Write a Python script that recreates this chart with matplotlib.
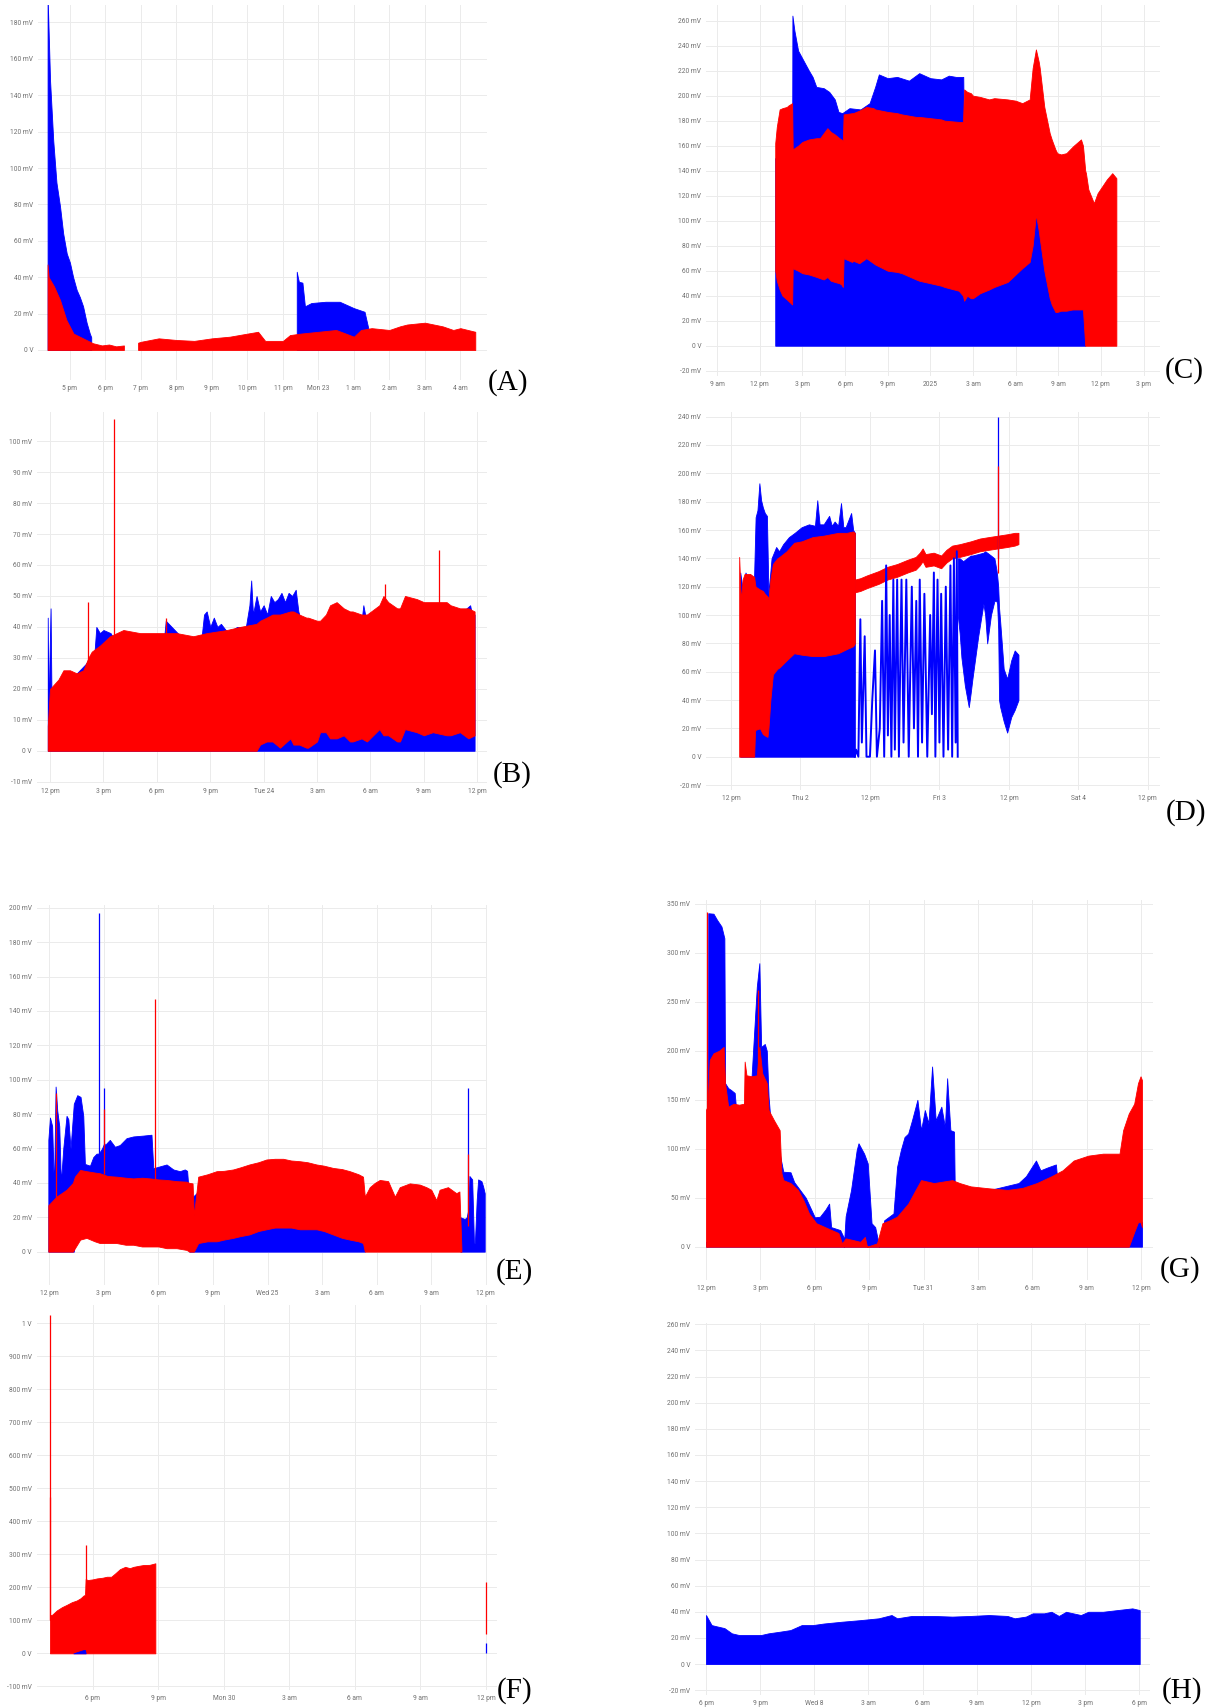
import matplotlib
matplotlib.use("Agg")
import matplotlib.pyplot as plt

BLUE = "#0000ff"
RED = "#ff0000"

# ---------------- Panel A (hours after 12 pm) ----------------
a_xticks = [5, 6, 7, 8, 9, 10, 11, 12, 13, 14, 15, 16]
a_xlabels = ["5 pm", "6 pm", "7 pm", "8 pm", "9 pm", "10 pm", "11 pm", "Mon 23", "1 am", "2 am", "3 am", "4 am"]
a_yticks = [0, 20, 40, 60, 80, 100, 120, 140, 160, 180]
a_blue1_x = [4.37, 4.44, 4.53, 4.62, 4.72, 4.81, 4.91, 5.0, 5.09, 5.19, 5.28, 5.37, 5.47, 5.56, 5.6]
a_blue1_hi = [195, 148, 115, 92, 79, 64, 53, 48, 40, 33, 29, 24, 15, 9, 7]
a_blue2_x = [11.39, 11.42, 11.45, 11.55, 11.62, 11.8, 12.2, 12.6, 13.0, 13.3, 13.44]
a_blue2_hi = [43, 40, 37.5, 37, 24, 25.8, 26.5, 26.5, 23, 21, 9]
a_red1_x = [4.37, 4.40, 4.55, 4.72, 4.90, 5.10, 5.37, 5.65, 5.90, 6.10, 6.30, 6.52]
a_red1_hi = [47, 40, 35, 27.5, 16.5, 9, 6.4, 3.7, 2.5, 3, 2, 2.5]
a_red2_x = [6.92, 7.0, 7.5, 8.0, 8.5, 9.0, 9.5, 10.0, 10.3, 10.5, 11.0, 11.2, 11.5, 12.0, 12.5,
            13.0, 13.2, 13.5, 14.0, 14.3, 14.5, 15.0, 15.5, 15.8, 16.0, 16.42]
a_red2_hi = [4, 4.5, 6.4, 5.5, 5, 6.4, 7.3, 9, 10, 5, 5, 8.2, 9, 10, 11, 7.3, 11, 12, 11, 13, 14, 15, 13, 11, 12, 10]

# ---------------- Panel B ----------------
b_xticks = [0, 3, 6, 9, 12, 15, 18, 21, 24]
b_xlabels = ["12 pm", "3 pm", "6 pm", "9 pm", "Tue 24", "3 am", "6 am", "9 am", "12 pm"]
b_yticks = [-10, 0, 10, 20, 30, 40, 50, 60, 70, 80, 90, 100]
b_blue_x = [-0.13, -0.08, -0.03, 0.03, 0.08, 0.15, 0.5, 1.0, 2.0, 2.5, 2.6, 2.8, 3.0, 3.4, 3.6, 4.5,
            6.0, 6.4, 6.5, 7.5, 8.5, 8.65, 8.8, 9.0, 9.2, 9.4, 9.6, 10.0, 10.5, 11.0, 11.2, 11.3,
            11.4, 11.6, 11.8, 12.0, 12.2, 12.4, 12.6, 12.8, 13.0, 13.2, 13.4, 13.6, 13.8, 13.95,
            14.1, 15.0, 16.0, 17.0, 17.5, 17.6, 17.7, 18.0, 19.0, 20.0, 21.0, 22.0, 23.0, 23.6, 23.7, 23.85]
b_blue_hi = [43, 10, 30, 46, 18, 15, 18, 22, 28, 32, 40, 38, 39, 38, 36, 36, 36, 36, 42, 36,
             36, 44, 45, 40, 43, 40, 41, 38, 40, 40, 47, 55, 44, 50, 45, 47, 44, 50, 48, 49,
             51, 48, 51, 50, 52, 45, 42, 40, 44, 44, 42, 47, 44, 43, 44, 44, 45, 45, 44, 47, 44, 44]
b_red_x = [-0.13, 0.0, 0.47, 0.75, 1.12, 1.5, 1.87, 2.15, 2.34, 2.81, 3.37, 4.12, 5.06, 6.18, 7.12,
           8.05, 8.8, 9.93, 10.67, 11.6, 11.8, 12.17, 12.5, 12.92, 13.5, 13.67, 14.0, 14.4, 14.5,
           15.0, 15.17, 15.5, 15.73, 16.1, 16.5, 16.85, 17.0, 17.5, 17.8, 18.5, 18.73, 19.0, 19.5,
           19.66, 19.94, 20.6, 21.0, 21.5, 22.28, 22.5, 23.03, 23.5, 23.85]
b_red_hi = [8, 20, 23, 26, 26, 25, 26, 30, 32, 34, 37, 39, 38, 38, 38, 37, 38, 39, 40, 41,
            42, 43, 44, 44, 45, 45, 44, 43, 43, 42, 42, 44, 47, 48, 46, 45, 45, 44, 44, 47,
            50, 48, 46, 46, 50, 49, 48, 48, 48, 47, 46, 46, 45]
b_red_lo = [0] * 20 + [2, 3, 3, 1, 4, 2, 2, 1, 1, 3, 6, 6, 4, 4, 5, 3, 3, 4, 3, 7, 5, 5, 3, 3,
                       7, 6, 5, 6, 5, 5, 6, 4, 5]
b_rspike_x = [2.15, 3.6, 6.5, 18.82, 21.87]
b_rspike_hi = [48, 107, 43, 54, 65]

# ---------------- Panel C (hours after 9 am) ----------------
c_xticks = [0, 3, 6, 9, 12, 15, 18, 21, 24, 27, 30]
c_xlabels = ["9 am", "12 pm", "3 pm", "6 pm", "9 pm", "2025", "3 am", "6 am", "9 am", "12 pm", "3 pm"]
c_yticks = list(range(-20, 261, 20))
c_blue_x = [4.09, 5.28, 5.3, 5.44, 5.7, 6.08, 6.46, 6.72, 6.98, 7.5, 7.89, 8.28, 8.54, 8.8, 9.31,
            10.09, 10.73, 11.12, 11.38, 12.0, 12.67, 13.5, 14.22, 15.0, 15.77, 16.3, 16.8, 17.32,
            17.36, 18.0, 20.0, 22.0, 22.43, 23.0, 24.0, 25.0, 25.8, 25.9]
c_blue_hi = [150, 150, 264, 252, 236, 228, 220, 215, 207, 206, 203, 197, 187, 186, 190, 189, 194,
             207, 217, 214, 215, 212, 218, 214, 213, 216, 215, 215, 170, 180, 180, 185, 200, 160,
             140, 140, 140, 29]
c_red_x = [4.09, 4.2, 4.4, 4.6, 4.91, 5.0, 5.28, 5.32, 5.7, 6.0, 6.46, 7.0, 7.24, 7.5, 7.76, 8.0,
           8.28, 8.6, 8.74, 8.85, 8.9, 9.5, 9.57, 10.0, 10.5, 11.0, 11.12, 12.0, 12.67, 13.0, 14.0,
           14.22, 15.0, 15.77, 16.0, 17.0, 17.3, 17.38, 17.6, 17.85, 18.0, 18.5, 19.14, 19.5, 20.44,
           21.0, 21.47, 21.99, 22.2, 22.43, 22.63, 22.7, 23.02, 23.4, 23.54, 23.8, 23.93, 24.2,
           24.57, 25.0, 25.09, 25.6, 25.74, 25.9, 25.95, 26.12, 26.51, 26.77, 27.42, 27.8, 28.09]
c_red_hi = [162, 175, 189, 190, 191, 192, 194, 157, 160, 163, 165, 166, 166, 170, 174, 171, 169,
            166, 165, 164, 185, 186, 186, 188, 191, 190, 189, 187, 186, 185, 183, 183, 182, 181,
            180, 179, 179, 205, 203, 202, 200, 199, 197, 198, 197, 196, 194, 197, 222, 237, 227,
            222, 191, 170, 165, 157, 154, 153, 154, 159, 160, 165, 160, 140, 138, 125, 114, 122,
            133, 138, 134]
c_red_lo = [60, 52, 45, 40, 37, 36, 33, 62, 60, 58, 57, 55, 54, 53, 55, 52, 51, 50, 49, 47, 70,
            67, 68, 66, 70, 66, 65, 60, 59, 58, 53, 52, 50, 48, 47, 44, 40, 36, 40, 38, 38, 42,
            45, 47, 51, 57, 62, 67, 80, 105, 92, 86, 60, 38, 33, 27, 27, 28, 28, 29, 29, 29, 29,
            0, 0, 0, 0, 0, 0, 0, 0]

# ---------------- Panel D (hours after Wed 12 pm) ----------------
d_xticks = [0, 12, 24, 36, 48, 60, 72]
d_xlabels = ["12 pm", "Thu 2", "12 pm", "Fri 3", "12 pm", "Sat 4", "12 pm"]
d_yticks = list(range(-20, 241, 20))
d_blue1_x = [1.6, 2.0, 2.5, 3.0, 3.5, 3.94, 4.25, 4.57, 4.9, 5.2, 5.5, 5.84, 6.2, 6.47, 7.0, 7.8,
             8.3, 9.0, 10.0, 11.0, 12.2, 13.45, 14.5, 14.9, 15.3, 16.0, 16.95, 17.4, 17.9, 18.5,
             19.0, 19.4, 19.8, 20.75, 21.1, 21.39]
d_blue1_hi = [130, 118, 130, 125, 128, 120, 169, 174, 193, 181, 176, 172, 170, 115, 140, 148, 145,
              150, 155, 158, 162, 164, 163, 181, 164, 164, 170, 163, 166, 163, 179, 162, 162, 172,
              160, 158]
d_blue2_x = [21.39, 21.6, 22.0, 22.34, 22.6, 23.09, 23.4, 24.0, 24.4, 24.87, 25.2, 25.7, 26.1,
             26.46, 26.8, 27.1, 27.41, 27.7, 28.04, 28.3, 28.7, 29.0, 29.45, 29.8, 30.28, 30.7,
             31.23, 31.6, 32.0, 32.3, 32.6, 33.0, 33.4, 33.9, 34.4, 34.7, 35.04, 35.3, 35.67, 36.0,
             36.3, 36.7, 37.1, 37.5, 37.9, 38.2, 38.5, 38.8, 39.0, 39.16]
d_blue2_y = [0, 5, 0, 97, 10, 85, 0, 0, 40, 75, 0, 20, 110, 0, 135, 15, 100, 0, 125, 5, 125, 0,
             125, 10, 125, 0, 120, 20, 110, 0, 125, 10, 115, 0, 100, 30, 130, 0, 125, 10, 115, 0,
             120, 5, 135, 0, 140, 10, 145, 0]
d_blue3_x = [39.16, 39.5, 39.8, 40.1, 40.4, 41.07, 41.4, 41.7, 42.7, 43.6, 43.9, 44.25, 44.9, 45.5,
             45.84, 45.97, 46.15, 46.3, 46.5, 47.1, 47.7, 48.4, 49.0, 49.65]
d_blue3_hi = [140, 140, 139, 138, 139, 141, 142, 142, 143, 144, 145, 144, 142, 140, 132, 128, 120,
              105, 95, 62, 55, 68, 75, 72]
d_blue3_lo = [100, 87, 70, 60, 50, 35, 45, 55, 85, 108, 100, 80, 100, 110, 110, 108, 90, 40, 35,
              25, 17, 28, 33, 40]
d_red1_x = [1.41, 1.6, 1.72, 2.0, 2.34, 3.3, 3.94, 4.0, 4.15, 4.25, 5.0, 5.5, 5.84, 6.3, 6.47, 6.8,
            7.23, 7.6, 8.0, 8.37, 9.6, 10.9, 12.2, 14.1, 16.0, 18.5, 20.0, 21.1, 21.39]
d_red1_hi = [141, 120, 110, 125, 129, 129, 127, 127, 122, 120, 118, 117, 115, 113, 111, 125, 136,
             138, 140, 141, 145, 151, 152, 155, 156, 158, 158, 159, 158]
d_red1_lo = [0, 0, 0, 0, 0, 0, 0, 0, 18, 19, 20, 16, 15, 14, 20, 40, 58, 60, 62, 63, 68, 73, 72,
             71, 71, 73, 76, 78, 80]
d_red2_x = [21.39, 22.34, 23.5, 25.5, 27.0, 28.7, 30.5, 31.9, 32.6, 33.1, 33.6, 35.0, 36.3, 37.2,
            38.2, 39.5, 41.4, 43.0, 44.5, 46.1, 47.7, 49.0, 49.65]
d_red2_hi = [125, 126, 128, 131, 134, 136, 139, 141, 144, 147, 143, 144, 142, 146, 149, 150, 152,
             154, 155, 156, 157, 158, 158]
d_red2_lo = [116, 117, 119, 122, 125, 127, 130, 132, 135, 138, 134, 135, 133, 137, 140, 141, 143,
             145, 146, 147, 148, 149, 150]
d_spike_x = 46.15
d_spike_blue = 240
d_spike_red = 205

# ---------------- Panel E ----------------
e_xticks = [0, 3, 6, 9, 12, 15, 18, 21, 24]
e_xlabels = ["12 pm", "3 pm", "6 pm", "9 pm", "Wed 25", "3 am", "6 am", "9 am", "12 pm"]
e_yticks = list(range(0, 201, 20))
e_blue1_x = [-0.05, 0.04, 0.16, 0.26, 0.35, 0.44, 0.55, 0.64, 0.77, 0.95, 1.05, 1.17, 1.35, 1.54,
             1.72, 1.87, 1.96, 2.24, 2.42, 2.6, 2.7, 2.78, 2.9, 3.02, 3.08, 3.15, 3.33, 3.61, 3.88,
             4.25, 4.62, 5.17, 5.62, 5.72, 6.08, 6.45, 6.82, 7.18, 7.45, 7.58, 7.7, 8.2, 9.0, 10.0,
             11.0, 12.0, 13.0, 14.0, 15.0, 16.0, 17.0, 17.3, 17.35]
e_blue1_hi = [65, 78, 73, 36, 96, 82, 73, 40, 60, 79, 77, 60, 86, 91, 90, 79, 51, 50, 55, 57, 57,
              58, 60, 63, 62, 63, 65, 61, 62, 66, 67, 67.5, 68, 48.5, 49.6, 50.7, 47.8, 46.8,
              47.8, 47, 30, 35, 40, 40, 45, 45, 45, 45, 40, 40, 35, 30, 20]
e_blue1_lo = [0] * 13 + [20] * 27 + [0] * 13
e_blue2_x = [22.6, 22.84, 22.95, 23.05, 23.1, 23.25, 23.35, 23.4, 23.5, 23.58, 23.76, 23.85, 23.94]
e_blue2_hi = [20, 19, 20, 25, 44, 42, 5, 5, 30, 42, 41, 38, 34]
e_red_x = [-0.05, 0.4, 0.95, 1.3, 1.41, 1.7, 2.05, 2.5, 2.78, 3.2, 3.7, 4.2, 4.62, 5.1, 5.53, 6.0,
           6.45, 7.0, 7.55, 7.7, 7.88, 7.95, 8.19, 8.7, 9.2, 9.6, 10.11, 10.5, 11.0, 11.5, 11.94,
           12.4, 12.86, 13.3, 13.77, 14.2, 14.69, 15.1, 15.6, 16.1, 16.52, 17.0, 17.25, 17.35,
           17.62, 17.9, 18.17, 18.63, 19.0, 19.27, 19.82, 20.37, 20.73, 21.0, 21.28, 21.46,
           21.92, 22.38, 22.55, 22.66]
e_red_hi = [27, 32, 36, 40, 43.6, 47.5, 46.8, 46, 45.6, 44, 43.6, 43, 42.6, 43, 42.6, 42, 41.7,
            41, 40.7, 40, 39.7, 21, 43.6, 45, 46.8, 47, 47.8, 49, 50.7, 52, 53.6, 54, 54, 53,
            52.6, 52, 50.7, 50, 48.7, 48, 46.8, 45, 43.6, 32, 37.5, 40, 41.7, 41, 32, 37.5, 39.7,
            39, 37.5, 36, 30, 36, 37.5, 34, 35, 2]
e_red_lo = [0, 0, 0, 0, 2, 7, 8, 6, 5, 5, 5, 4, 4, 3, 3, 3, 2, 2, 1, 0, 0, 0, 5, 6, 6, 7, 8, 9,
            10, 12, 13, 14, 14, 14, 13, 13, 13, 12, 10, 8, 7, 6, 5] + [0] * 17
e_bspike_x = [2.75, 3.02, 23.0]
e_bspike_lo = [50, 60, 20]
e_bspike_hi = [197, 95, 95]
e_rspike_x = [0.35, 3.02, 5.8, 23.0]
e_rspike_lo = [30, 45, 40, 15]
e_rspike_hi = [92, 83, 147, 57]

# ---------------- Panel F ----------------
f_xticks = [6, 9, 12, 15, 18, 21, 24]
f_xlabels = ["6 pm", "9 pm", "Mon 30", "3 am", "6 am", "9 am", "12 pm"]
f_yticks = list(range(-100, 1001, 100))
f_red_x = [4.05, 4.08, 4.13, 4.36, 4.6, 4.82, 5.05, 5.27, 5.45, 5.58, 5.65, 5.68, 5.77, 6.0, 6.2,
           6.45, 6.65, 6.85, 7.03, 7.25, 7.49, 7.7, 7.87, 8.1, 8.32, 8.6, 8.87]
f_red_hi = [116, 116, 116, 130, 140, 147, 155, 160, 167, 175, 177, 225, 222, 224, 227, 229, 232,
            232, 242, 255, 262, 258, 262, 265, 267.5, 268, 272.7]
f_blue_x = [5.12, 5.35, 5.58, 5.65, 5.68]
f_blue_hi = [0, 5, 10, 10, 0]
f_rspike_x = [4.05, 4.07, 5.7, 24.0]
f_rspike_lo = [100, 100, 200, 60]
f_rspike_hi = [1025, 474, 328, 215]
f_bspike_x = [24.0]
f_bspike_hi = [30]

# ---------------- Panel G ----------------
g_xticks = [0, 3, 6, 9, 12, 15, 18, 21, 24]
g_xlabels = ["12 pm", "3 pm", "6 pm", "9 pm", "Tue 31", "3 am", "6 am", "9 am", "12 pm"]
g_yticks = [0, 50, 100, 150, 200, 250, 300, 350]
g_blue_x = [0.0, 0.1, 0.12, 0.41, 0.61, 0.85, 1.01, 1.05, 1.22, 1.38, 1.58, 1.66, 2.0, 2.5, 2.8,
            2.94, 3.04, 3.24, 3.35, 3.45, 3.55, 3.9, 4.26, 4.66, 4.86, 5.5, 6.0, 6.28, 6.59, 6.79,
            6.9, 7.4, 7.58, 7.6, 7.7, 8.0, 8.31, 8.41, 8.72, 8.92, 9.13, 9.33, 9.5, 9.53, 9.83,
            10.34, 10.54, 10.75, 10.95, 11.15, 11.36, 11.66, 11.86, 12.07, 12.27, 12.47, 12.67,
            12.98, 13.18, 13.3, 13.48, 13.68, 13.72, 15.0, 17.24, 17.65, 18.2, 18.45, 18.85, 19.3,
            19.42, 21.0, 23.0, 23.5, 23.83, 24.05]
g_blue_hi = [5, 5, 340.5, 340, 333.6, 327, 315, 167, 162, 160, 157, 140, 140, 170, 265.6, 289.5,
             204, 207, 200, 153, 130, 110, 76.6, 76, 66, 50, 30, 30.6, 38, 44, 20, 17, 10, 0, 31,
             58, 98.7, 105.6, 95, 85, 24, 20, 5, 0, 27, 34, 81.7, 99, 112, 115.5, 129, 150, 119,
             139.5, 126, 184, 129, 143, 122, 172, 119, 117.5, 60, 55, 65, 72, 88, 78, 81, 84, 60,
             80, 80, 10, 27, 25]
g_red_x = [0.0, 0.08, 0.2, 0.41, 0.71, 0.97, 1.05, 1.22, 1.52, 1.82, 2.09, 2.13, 2.23, 2.53, 2.8,
           2.94, 3.1, 3.35, 3.45, 3.75, 4.06, 4.16, 4.26, 4.66, 5.07, 5.37, 5.68, 6.08, 6.49, 6.89,
           7.3, 7.5, 7.7, 8.11, 8.51, 8.76, 8.88, 9.43, 9.73, 10.14, 10.54, 11.15, 11.56, 11.86,
           12.57, 13.58, 13.99, 14.6, 15.62, 16.63, 17.45, 18.25, 19.06, 19.67, 20.28, 21.09,
           21.9, 22.81, 23.01, 23.32, 23.62, 23.83, 23.97, 24.05]
g_red_hi = [140, 143, 190.7, 197.5, 200, 204, 167, 143, 146, 145, 146, 189, 175, 174, 175, 204,
            177, 167, 139.5, 129, 119, 75, 68, 65, 58, 47.6, 34, 24, 20.6, 17.3, 14, 3.4, 8.5,
            6.8, 5, 10, 0, 3.4, 24, 27, 30.7, 44, 58, 68, 65, 68, 65, 61.6, 59.6, 58, 60, 65, 72,
            78, 88, 93, 95, 95, 119, 136, 146, 167, 174, 170]
g_red_lo = [0] * 60 + [15, 25, 25, 20]
g_rspike_x = [0.04, 2.84]
g_rspike_lo = [0, 170]
g_rspike_hi = [342, 262]

# ---------------- Panel H (hours after 6 pm) ----------------
h_xticks = [0, 3, 6, 9, 12, 15, 18, 21, 24]
h_xlabels = ["6 pm", "9 pm", "Wed 8", "3 am", "6 am", "9 am", "12 pm", "3 pm", "6 pm"]
h_yticks = list(range(-20, 261, 20))
h_blue_x = [0, 0.1, 0.31, 0.61, 1.02, 1.43, 1.83, 2.44, 3.05, 3.46, 4.07, 4.68, 5.3, 5.91, 6.52,
            7.54, 8.55, 9.57, 10.28, 10.59, 11.4, 12.62, 13.64, 14.66, 15.68, 16.7, 17.1, 17.72,
            18.1, 18.73, 19.14, 19.55, 19.95, 20.77, 21.18, 21.99, 22.8, 23.62, 24.03]
h_blue_hi = [37.5, 35, 29.8, 28.8, 27.5, 23.5, 22.2, 22.2, 22.2, 23.5, 24.7, 26, 29.8, 29.8, 31,
             32.4, 33.6, 35, 37.5, 35, 36.8, 36.8, 36.3, 36.8, 37.5, 36.8, 35, 36.3, 38.8, 38.8,
             40, 36.8, 40, 37.5, 40, 40, 41.3, 42.6, 41.3]

# ================= drawing =================
W, H = 1216, 1707
fig = plt.figure(figsize=(W / 100, H / 100), dpi=100)
fig.patch.set_facecolor("white")


def mv(v):
    if v == 0:
        return "0 V"
    if abs(v) >= 1000:
        return "%d V" % (v // 1000)
    return "%d mV" % v


def make_ax(box, xlim, ylim, xt, xl, yt):
    l, t, r, b = box
    ax = fig.add_axes([l / W, 1 - b / H, (r - l) / W, (b - t) / H])
    ax.set_xlim(*xlim)
    ax.set_ylim(*ylim)
    ax.set_xticks(xt)
    ax.set_xticklabels(xl)
    ax.set_yticks(yt)
    ax.set_yticklabels([mv(v) for v in yt])
    for s in ax.spines.values():
        s.set_visible(False)
    ax.tick_params(length=0, labelsize=4.8, labelcolor="#6e6e6e", pad=3.5)
    for lab in ax.get_xticklabels() + ax.get_yticklabels():
        lab.set_fontfamily("Roboto")
    ax.grid(True, color="#ebebeb", linewidth=0.7)
    ax.set_axisbelow(True)
    return ax


def band(ax, x, lo, hi, color):
    ax.fill_between(x, lo, hi, color=color, linewidth=0.6, edgecolor=color)


def letter(txt, cx, cy):
    fig.text(cx / W, 1 - cy / H, txt, ha="center", va="center",
             fontsize=21, family="Liberation Serif")


# A
ax = make_ax((38, 5, 487, 380), (4.1, 16.75), (-16.5, 189.6), a_xticks, a_xlabels, a_yticks)
band(ax, a_blue1_x, 0, a_blue1_hi, BLUE)
band(ax, a_blue2_x, 0, a_blue2_hi, BLUE)
band(ax, a_red1_x, 0, a_red1_hi, RED)
band(ax, a_red2_x, 0, a_red2_hi, RED)
letter("(A)", 508, 383)

# B
ax = make_ax((36.7, 411.7, 486.7, 783), (-0.75, 24.53), (-10.4, 109.5), b_xticks, b_xlabels, b_yticks)
band(ax, b_blue_x, 0, b_blue_hi, BLUE)
band(ax, b_red_x, b_red_lo, b_red_hi, RED)
ax.vlines(b_rspike_x, 20, b_rspike_hi, color=RED, linewidth=0.9)
letter("(B)", 512, 775)

# C
ax = make_ax((706, 5, 1160, 376), (-0.78, 31.16), (-24.2, 272.5), c_xticks, c_xlabels, c_yticks)
band(ax, c_blue_x, 0, c_blue_hi, BLUE)
band(ax, c_red_x, c_red_lo, c_red_hi, RED)
letter("(C)", 1184, 371)

# D
ax = make_ax((706, 411.7, 1160, 790), (-4.32, 74.1), (-23.5, 243.5), d_xticks, d_xlabels, d_yticks)
band(ax, d_blue1_x, 0, d_blue1_hi, BLUE)
ax.plot(d_blue2_x, d_blue2_y, color=BLUE, linewidth=1.4)
band(ax, d_blue3_x, d_blue3_lo, d_blue3_hi, BLUE)
ax.vlines([d_spike_x], 140, [d_spike_blue], color=BLUE, linewidth=0.9)
band(ax, d_red1_x, d_red1_lo, d_red1_hi, RED)
band(ax, d_red2_x, d_red2_lo, d_red2_hi, RED)
ax.vlines([d_spike_x], 130, [d_spike_red], color=RED, linewidth=0.9)
letter("(D)", 1186, 813)

# E
ax = make_ax((36.7, 905, 486.7, 1285), (-0.69, 24.05), (-19.4, 201.6), e_xticks, e_xlabels, e_yticks)
ax.vlines(e_bspike_x, e_bspike_lo, e_bspike_hi, color=BLUE, linewidth=0.9)
band(ax, e_blue1_x, e_blue1_lo, e_blue1_hi, BLUE)
band(ax, e_blue2_x, 0, e_blue2_hi, BLUE)
band(ax, e_red_x, e_red_lo, e_red_hi, RED)
ax.vlines(e_rspike_x, e_rspike_lo, e_rspike_hi, color=RED, linewidth=0.9)
letter("(E)", 514, 1272)

# F
ax = make_ax((36.7, 1305, 496.7, 1690), (3.44, 24.49), (-111, 1055), f_xticks, f_xlabels, f_yticks)
band(ax, f_red_x, 0, f_red_hi, RED)
ax.vlines(f_rspike_x, f_rspike_lo, f_rspike_hi, color=RED, linewidth=0.9)
band(ax, f_blue_x, 0, f_blue_hi, BLUE)
ax.vlines(f_bspike_x, 0, f_bspike_hi, color=BLUE, linewidth=0.9)
letter("(F)", 515, 1691)

# G
ax = make_ax((695, 900, 1152.5, 1280), (-0.61, 24.63), (-34, 354), g_xticks, g_xlabels, g_yticks)
band(ax, g_blue_x, 0, g_blue_hi, BLUE)
band(ax, g_red_x, g_red_lo, g_red_hi, RED)
ax.vlines(g_rspike_x, g_rspike_lo, g_rspike_hi, color=RED, linewidth=0.9)
letter("(G)", 1180, 1270)

# H
ax = make_ax((695, 1323, 1150, 1695), (-0.61, 24.6), (-23.7, 261), h_xticks, h_xlabels, h_yticks)
band(ax, h_blue_x, 0, h_blue_hi, BLUE)
letter("(H)", 1182, 1691)

fig.savefig("out.png", dpi=100, facecolor="white")
